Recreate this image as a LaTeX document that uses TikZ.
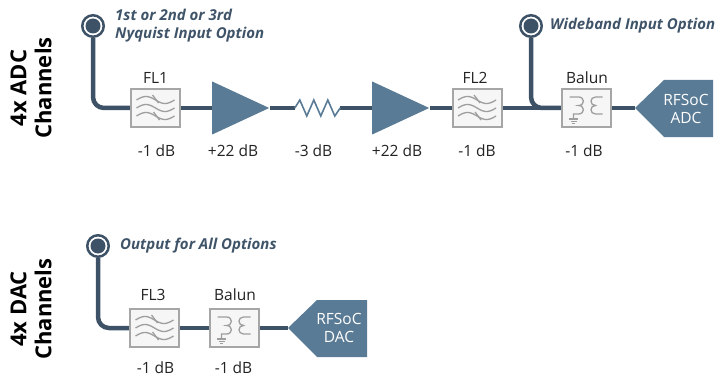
\documentclass[tikz,border=0pt]{standalone}
\usepackage{fontspec}
\setmainfont{Open Sans}
\usetikzlibrary{shapes.geometric,backgrounds}
\definecolor{linec}{HTML}{3D5267}
\definecolor{ampc}{HTML}{5A7B96}
\definecolor{boxc}{HTML}{A6A6A6}
\definecolor{boxf}{HTML}{F6F6F6}
\definecolor{symc}{HTML}{9E9E9E}
\definecolor{txtc}{HTML}{222222}
\definecolor{notec}{HTML}{3F5468}
\tikzset{
 mainline/.style={draw=linec, line width=4.5pt},
 fbox/.style={draw=boxc, fill=boxf, line width=2pt, minimum width=49pt, minimum height=38pt, inner sep=0pt},
 amp/.style={isosceles triangle, isosceles triangle stretches, fill=ampc, minimum width=53pt, minimum height=57pt, inner sep=0pt, anchor=west},
 jack/.style={circle, draw=linec, line width=2.5pt, fill=white, minimum size=21.5pt, inner sep=0pt,
   path picture={\fill[linec] (path picture bounding box.center) circle[radius=7.5pt];}},
 lbl/.style={font=\fontsize{15.5}{19}\selectfont, text=txtc, inner sep=0pt},
 note/.style={font=\fontsize{15}{18}\selectfont\bfseries\itshape, text=notec, align=left, anchor=west, inner sep=0pt},
 side/.style={font=\fontsize{22}{25}\selectfont\bfseries, text=black, rotate=90, align=center, inner sep=0pt},
 chip/.style={fill=ampc},
 chiptxt/.style={font=\fontsize{15.5}{18}\selectfont, text=white, align=center, inner sep=0pt},
 sym/.style={draw=symc, line width=1.3pt},
 zig/.style={draw=ampc, line width=1.6pt, line join=miter},
 filtersym/.pic={
   \foreach \yy in {-8,0,8}
     \draw[sym] plot[domain=-19:19, samples=39, smooth] (\x,{\yy+3.5*sin(\x*360/38)});
   \draw[sym] (-3,-13) -- (3,-5);
   \draw[sym] (-2,4) -- (4,12);
 },
 balunsym/.pic={
   \draw[sym] (-17,-11) -- (-8,-11) .. controls (-1.5,-11) and (-1.5,-2.5) .. (-8,-2.5)
      .. controls (-1.5,-2.5) and (-1.5,6) .. (-8,6) -- (-13,6) -- (-13,11);
   \draw[sym] (-17.5,11) -- (-8.5,11) (-16,13.2) -- (-10,13.2) (-14.5,15.4) -- (-11.5,15.4);
   \draw[sym] (16,-11) -- (9,-11) .. controls (3,-11) and (3,-2.5) .. (9,-2.5)
      .. controls (3,-2.5) and (3,6) .. (9,6) -- (16,6);
 }
}
\begin{document}
\begin{tikzpicture}[x=1pt,y=-1pt]
\useasboundingbox (0,0) rectangle (717,377);
% ---------- ADC row ----------
\node[side] (adcside) at (31,88) {4x ADC\\Channels};
\node[jack] (nyq) at (93,26) {};
\node[note] (nyqt) at (115,26) {1st or 2nd or 3rd\\Nyquist Input Option};
\node[fbox] (fl1) at (155.5,108) {};
\pic at (fl1) {filtersym};
\node[lbl] (fl1t) at (155.5,78) {FL1};
\node[lbl] (fl1g) at (156.5,151) {-1 dB};
\node[amp] (amp1) at (212,108) {};
\node[lbl] (amp1g) at (233,151) {+22 dB};
\node[minimum width=45pt, minimum height=16pt, inner sep=0pt] (res) at (317.5,108) {};
\node[lbl] (resg) at (313.5,151) {-3 dB};
\node[amp] (amp2) at (372,108) {};
\node[lbl] (amp2g) at (397,151) {+22 dB};
\node[fbox] (fl2) at (477,108) {};
\pic at (fl2) {filtersym};
\node[lbl] (fl2t) at (475,78) {FL2};
\node[lbl] (fl2g) at (477,151) {-1 dB};
\node[jack] (wb) at (531,26) {};
\node[note] (wbt) at (550,26) {Wideband Input Option};
\node[fbox] (bal1) at (586.5,108) {};
\pic at (bal1) {balunsym};
\node[lbl] (bal1t) at (587,78) {Balun};
\node[lbl] (bal1g) at (584,151) {-1 dB};
\fill[chip] (635,108) -- (664,80) -- (713,80) -- (713,137) -- (664,137) -- cycle;
\coordinate (adcin) at (635,108);
\node[chiptxt] (adct) at (686,109) {RFSoC\\ADC};
% ---------- DAC row ----------
\node[side] (dacside) at (31,309) {4x DAC\\Channels};
\node[jack] (outj) at (98,246) {};
\node[note] (outt) at (120,246) {Output for All Options};
\node[fbox] (fl3) at (154.5,328) {};
\pic at (fl3) {filtersym};
\node[lbl] (fl3t) at (153,295) {FL3};
\node[lbl] (fl3g) at (155.5,368) {-1 dB};
\node[fbox] (bal2) at (234.5,328) {};
\pic at (bal2) {balunsym};
\node[lbl] (bal2t) at (235,295) {Balun};
\node[lbl] (bal2g) at (233.5,368) {-1 dB};
\fill[chip] (288,328) -- (317,300) -- (367,300) -- (367,357) -- (317,357) -- cycle;
\coordinate (dacin) at (288,328);
\node[chiptxt] (dact) at (339,328) {RFSoC\\DAC};
% ---------- connectors ----------
\begin{scope}[on background layer]
\draw[mainline, rounded corners=11pt] (nyq.south) |- (fl1.west);
\draw[mainline] (fl1.east) -- (amp1.west);
\draw[mainline] (amp1.east) -- (res.west);
\draw[mainline] (res.east) -- (amp2.west);
\draw[mainline] (amp2.east) -- (fl2.west);
\draw[mainline] (fl2.east) -- (bal1.west);
\draw[mainline, rounded corners=11pt] (wb.south) |- (bal1.west);
\draw[mainline] (bal1.east) -- (adcin);
\draw[mainline, rounded corners=11pt] (outj.south) |- (fl3.west);
\draw[mainline] (fl3.east) -- (bal2.west);
\draw[mainline] (bal2.east) -- (dacin);
\end{scope}
\draw[zig] (res.west) -- ++(5,-8) -- ++(7,16) -- ++(7,-16) -- ++(7,16) -- ++(7,-16) -- ++(7,16) -- (res.east);
\end{tikzpicture}
\end{document}
